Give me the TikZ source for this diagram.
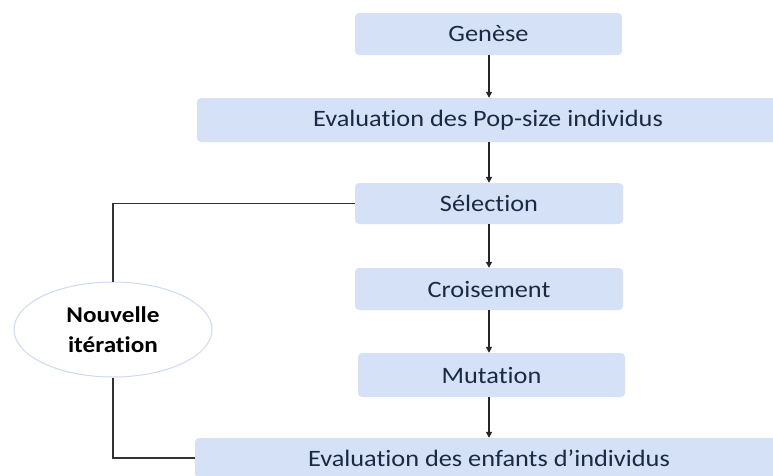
\documentclass[tikz,border=0pt]{standalone}
\usepackage{fontspec}
\setmainfont{Carlito}[FakeStretch=1.12,RawFeature={-liga}]
\usetikzlibrary{arrows.meta,shapes.geometric}
\definecolor{boxfill}{HTML}{D5E1F7}
\definecolor{txt}{HTML}{1B2A44}
\definecolor{ellline}{HTML}{CCDAF3}
\tikzset{
  stepbox/.style={fill=boxfill, rounded corners=4pt, inner sep=0pt, text=txt,
    font=\fontsize{23.5}{26}\selectfont, anchor=center},
  flow/.style={line width=1.3pt, black!85, -{Triangle[length=6pt,width=6pt]}},
  link/.style={line width=1.3pt, black!80},
}
\begin{document}
\begin{tikzpicture}[x=1pt,y=-1pt]
\useasboundingbox (0,0) rectangle (773,475);
\clip (0,0) rectangle (773,475);
\node[stepbox, minimum width=267pt, minimum height=42pt] (gen) at (488.5,34) {Genèse};
\node[stepbox, minimum width=582pt, minimum height=44pt] (evp) at (488,120) {Evaluation des Pop-size individus};
\node[stepbox, minimum width=268pt, minimum height=41pt] (sel) at (489,203.5) {Sélection};
\node[stepbox, minimum width=268pt, minimum height=42pt] (cro) at (489,289) {Croisement};
\node[stepbox, minimum width=267pt, minimum height=44pt] (mut) at (491.5,375) {Mutation};
\node[stepbox, minimum width=588pt, minimum height=40pt] (enf) at (489,458) {Evaluation des enfants d’individus};
\node[ellipse, draw=ellline, line width=1pt, fill=white, minimum width=198pt, minimum height=95pt,
  inner sep=0pt, align=center, text=black, font=\fontsize{22.5}{30}\selectfont\bfseries] (ell) at (113,329.5) {Nouvelle\\itération};
\draw[flow] (gen.south -| 489,0) -- (evp.north -| 489,0);
\draw[flow] (evp.south -| 489,0) -- (sel.north -| 489,0);
\draw[flow] (sel.south -| 489,0) -- (cro.north -| 489,0);
\draw[flow] (cro.south -| 489,0) -- (mut.north -| 489,0);
\draw[flow] (mut.south -| 489,0) -- (enf.north -| 489,0);
\draw[link] (sel.west) -| (ell.north);
\draw[link] (ell.south) |- (enf.west);
\end{tikzpicture}
\end{document}
